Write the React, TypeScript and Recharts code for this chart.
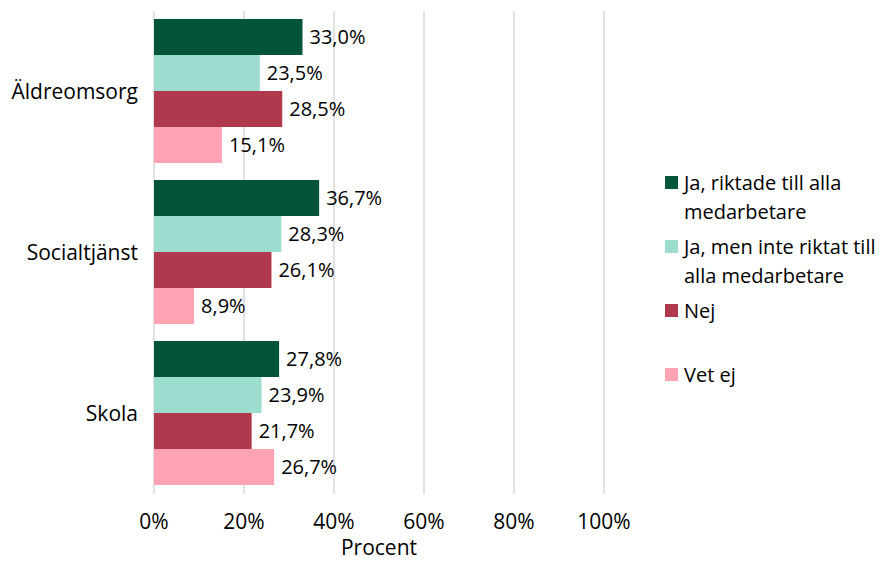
import {
  BarChart,
  Bar,
  XAxis,
  YAxis,
  CartesianGrid,
  LabelList,
} from "recharts";

const categories = ["Äldreomsorg", "Socialtjänst", "Skola"];
const jaAlla = [33.0, 36.7, 27.8];
const jaInteAlla = [23.5, 28.3, 23.9];
const nej = [28.5, 26.1, 21.7];
const vetEj = [15.1, 8.9, 26.7];
const xTicks = [0, 20, 40, 60, 80, 100];

const series = [
  { key: "jaAlla", label: ["Ja, riktade till alla", "medarbetare"], color: "#03553A" },
  { key: "jaInteAlla", label: ["Ja, men inte riktat till", "alla medarbetare"], color: "#9DDDCF" },
  { key: "nej", label: ["Nej"], color: "#B0394E" },
  { key: "vetEj", label: ["Vet ej"], color: "#FFA3B3" },
];

const data = categories.map((name, i) => ({
  name,
  jaAlla: jaAlla[i],
  jaInteAlla: jaInteAlla[i],
  nej: nej[i],
  vetEj: vetEj[i],
}));

const FONT = "'Open Sans', sans-serif";
const fmt = (v: number) => `${v.toFixed(1).replace(".", ",")}%`;

function LegendBox() {
  return (
    <div
      style={{
        position: "absolute",
        left: 665,
        top: 168,
        width: 221,
        fontFamily: FONT,
        fontSize: 20,
        color: "#000",
        lineHeight: "29px",
      }}
    >
      {series.map((s) => (
        <div key={s.key} style={{ display: "flex", height: 64, alignItems: "flex-start" }}>
          <div
            style={{
              width: 13,
              height: 13,
              background: s.color,
              marginTop: 8,
              marginRight: 6,
              flexShrink: 0,
            }}
          />
          <div>
            {s.label.map((l) => (
              <div key={l}>{l}</div>
            ))}
          </div>
        </div>
      ))}
    </div>
  );
}

export default function App() {
  return (
    <div style={{ position: "absolute", left: 0, top: 0, width: 886, height: 563, background: "#fff" }}>
      <BarChart
        width={886}
        height={563}
        data={data}
        layout="vertical"
        margin={{ top: 11, right: 282, left: 0, bottom: 0 }}
        barCategoryGap="5%"
        barGap={0}
      >
        <CartesianGrid horizontal={false} stroke="#D9D9D9" strokeWidth={1.5} />
        <XAxis
          type="number"
          domain={[0, 100]}
          ticks={xTicks}
          tickFormatter={(v) => `${v}%`}
          axisLine={false}
          tickLine={false}
          tickMargin={14}
          height={69}
          tick={{ fontSize: 21, fill: "#000", fontFamily: FONT }}
          label={{
            value: "Procent",
            position: "insideBottom",
            offset: 8,
            style: { fontSize: 21, fill: "#000", fontFamily: FONT },
          }}
        />
        <YAxis
          type="category"
          dataKey="name"
          width={154}
          axisLine={false}
          tickLine={false}
          tickMargin={10}
          tick={{ fontSize: 21, fill: "#000", fontFamily: FONT }}
        />
        {series.map((s) => (
          <Bar key={s.key} dataKey={s.key} fill={s.color} isAnimationActive={false}>
            <LabelList
              dataKey={s.key}
              position="right"
              offset={7}
              formatter={(v: number) => fmt(v)}
              style={{ fontSize: 20, fill: "#000", fontFamily: FONT }}
            />
          </Bar>
        ))}
      </BarChart>
      <LegendBox />
    </div>
  );
}
